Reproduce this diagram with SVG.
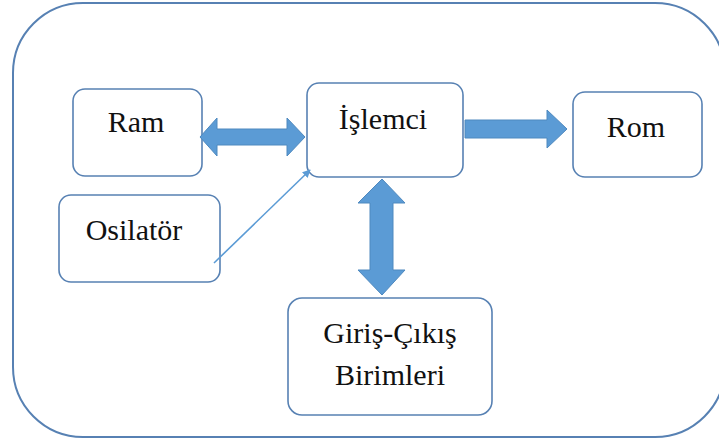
<svg xmlns="http://www.w3.org/2000/svg" width="719" height="441" viewBox="0 0 719 441">
<style>
.frame{fill:#fff;stroke:#5781B3;stroke-width:2}
.box{fill:#fff;stroke:#5781B3;stroke-width:1.6}
.lbl{font-size:30px;fill:#111;text-anchor:middle}
.big{fill:#5B9BD5;stroke:#4F89BF;stroke-width:1}
.thin{stroke:#5B9BD5;stroke-width:1.6;fill:none}
</style>
<defs>
<marker id="ah" viewBox="0 0 10 10" refX="9" refY="5" markerWidth="8" markerHeight="8" markerUnits="userSpaceOnUse" orient="auto">
<path d="M0,0 L10,5 L0,10 z" fill="#5B9BD5"/>
</marker>
</defs>
<rect class="frame" x="13" y="3" width="712" height="434" rx="70" ry="70"/>
<g font-family="Liberation Serif, DejaVu Serif, Times New Roman, serif">
<g id="ram"><rect class="box" x="73" y="89" width="129" height="87" rx="12"/><text class="lbl" x="136" y="132">Ram</text></g>
<g id="islemci"><rect class="box" x="307" y="83" width="156" height="94" rx="12"/><text class="lbl" x="383" y="129">İşlemci</text></g>
<g id="rom"><rect class="box" x="573" y="92" width="129" height="85" rx="12"/><text class="lbl" x="636" y="137">Rom</text></g>
<g id="osilator"><rect class="box" x="59" y="195" width="161" height="87" rx="12"/><text class="lbl" x="134" y="240">Osilatör</text></g>
<g id="giris"><rect class="box" x="288" y="298" width="204" height="117" rx="14"/><text class="lbl" x="390" y="343">Giriş-Çıkış</text><text class="lbl" x="390" y="385">Birimleri</text></g>
</g>
<g id="connectors">
<path class="big" d="M200,137 L217,118 L217,129 L287,129 L287,118 L305,137 L287,156 L287,145 L217,145 L217,156 Z"/>
<path class="big" d="M465,120 L547,120 L547,110 L567,129 L547,148 L547,138 L465,138 Z"/>
<path class="big" d="M382,179 L405,203 L393,203 L393,270 L405,270 L382,295 L358,270 L370,270 L370,203 L358,203 Z"/>
<line class="thin" x1="214" y1="263" x2="310" y2="170" marker-end="url(#ah)"/>
</g>
</svg>
